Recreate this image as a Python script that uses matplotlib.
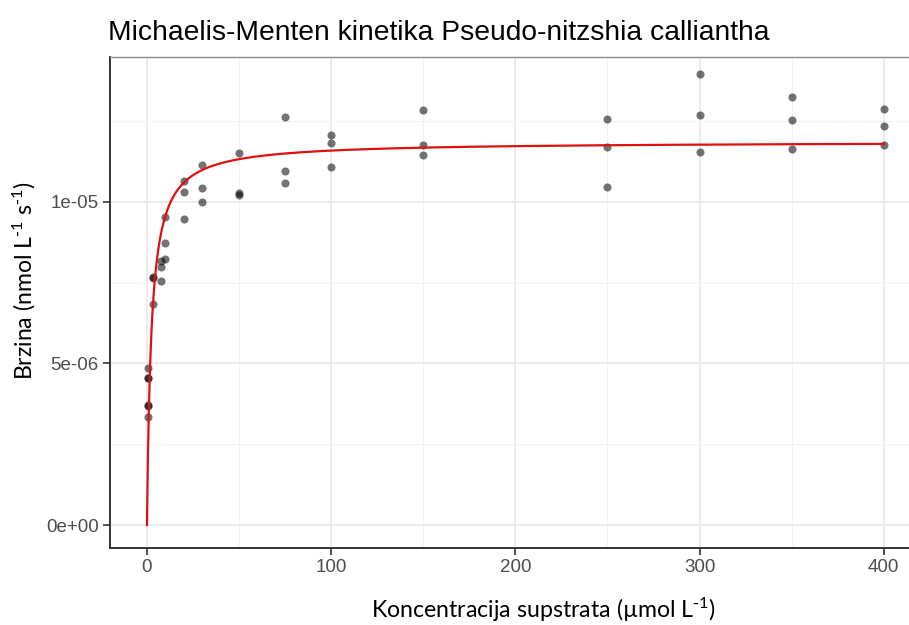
import numpy as np
import matplotlib
matplotlib.use("Agg")
import matplotlib.pyplot as plt
from matplotlib.ticker import MultipleLocator, FuncFormatter

plt.rcParams['font.family'] = ['Liberation Sans', 'DejaVu Sans']
plt.rcParams['mathtext.default'] = 'regular'

# substrate concentration (umol/L) and measured rate (nmol/L/s)
conc = [0.4, 0.4, 0.4, 0.4, 0.4, 0.4,
        3.5, 3.5, 3.5, 7.5, 7.5, 7.5, 10, 10, 10,
        20, 20, 20, 30, 30, 30, 50, 50, 50,
        75, 75, 75, 100, 100, 100, 150, 150, 150,
        250, 250, 250, 300, 300, 300, 350, 350, 350,
        400, 400, 400]
rate = [4.87e-6, 4.55e-6, 4.56e-6, 3.70e-6, 3.68e-6, 3.33e-6,
        6.83e-6, 7.68e-6, 7.66e-6, 7.55e-6, 7.98e-6, 8.16e-6,
        8.74e-6, 9.53e-6, 8.25e-6,
        1.066e-5, 1.032e-5, 0.947e-5, 1.115e-5, 1.044e-5, 0.999e-5,
        1.027e-5, 1.022e-5, 1.152e-5,
        1.263e-5, 1.096e-5, 1.059e-5, 1.207e-5, 1.183e-5, 1.108e-5,
        1.285e-5, 1.176e-5, 1.146e-5,
        1.258e-5, 1.169e-5, 1.046e-5, 1.396e-5, 1.269e-5, 1.155e-5,
        1.325e-5, 1.253e-5, 1.163e-5, 1.288e-5, 1.234e-5, 1.176e-5]

# fitted Michaelis-Menten parameters
vmax = 1.187e-5
km = 2.4

fig = plt.figure(figsize=(9.09, 6.25), dpi=100)
ax = fig.add_axes([0.121, 0.1232, 0.892, 0.7856])

ax.scatter(conc, rate, s=34, color='black', alpha=0.55, linewidths=0, zorder=3)

xs = np.linspace(0, 400, 801)
ax.plot(xs, vmax * xs / (km + xs), color='#E01010', lw=1.6, zorder=4)

ax.set_xlim(-20.08, 420.1)
ax.set_ylim(-7.12e-7, 1.4489e-5)

ax.xaxis.set_major_locator(MultipleLocator(100))
ax.xaxis.set_minor_locator(MultipleLocator(50))
ax.yaxis.set_major_locator(MultipleLocator(5e-6))
ax.yaxis.set_minor_locator(MultipleLocator(2.5e-6))

def sci(v, pos):
    return ('%.0e' % v).replace('-0e', '0e')
ax.yaxis.set_major_formatter(FuncFormatter(sci))

ax.grid(which='major', color='#EBEBEB', lw=1.3, zorder=0)
ax.grid(which='minor', color='#F2F2F2', lw=0.8, zorder=0)
ax.set_axisbelow(True)

for side in ['top', 'right']:
    ax.spines[side].set_color('#8C8C8C')
    ax.spines[side].set_linewidth(1.0)
for side in ['left', 'bottom']:
    ax.spines[side].set_color('#333333')
    ax.spines[side].set_linewidth(1.4)

ax.tick_params(which='major', length=5, width=1.2, color='#333333',
               labelcolor='#4D4D4D', labelsize=13.5, pad=3)
ax.tick_params(which='minor', length=0)

ax.set_title('Michaelis-Menten kinetika Pseudo-nitzshia calliantha',
             loc='left', fontsize=20.3, color='black', pad=12, x=-0.002)

sup = r'$^{\text{-}1}$'
lab_font = ['Lato', 'DejaVu Sans']
ax.set_xlabel('Koncentracija supstrata (µmol L' + sup + ')', family=lab_font,
              fontsize=16.7)
ax.xaxis.set_label_coords(0.534, -0.098)
ax.set_ylabel('Brzina (nmol L' + sup + ' s' + sup + ')', family=lab_font,
              fontsize=16.6)
ax.yaxis.set_label_coords(-0.089, 0.545)

fig.savefig('out.png', dpi=100)
